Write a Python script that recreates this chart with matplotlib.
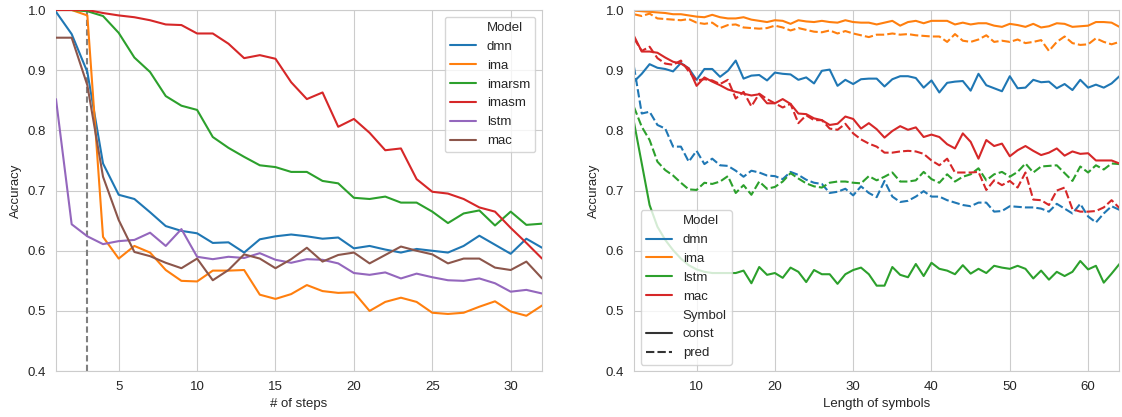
import matplotlib
matplotlib.use("Agg")
import matplotlib.pyplot as plt
import seaborn as sns
from matplotlib.lines import Line2D

sns.set_style("whitegrid")
plt.rcParams['font.family'] = ['Liberation Sans', 'DejaVu Sans']

# ---------------- data: left panel ----------------
steps = list(range(1, 33))
models_steps = ["dmn", "ima", "imarsm", "imasm", "lstm", "mac"]
dmn_steps = [0.997, 0.960, 0.897, 0.745, 0.693, 0.686, 0.664, 0.641, 0.633, 0.629, 0.613, 0.614, 0.597, 0.619, 0.624, 0.627,
             0.624, 0.620, 0.622, 0.604, 0.608, 0.602, 0.597, 0.603, 0.600, 0.597, 0.608, 0.625, 0.610, 0.595, 0.620, 0.605]
ima_steps = [1.0, 1.0, 0.991, 0.623, 0.587, 0.608, 0.597, 0.568, 0.550, 0.549, 0.567, 0.567, 0.568, 0.527, 0.520, 0.528,
             0.543, 0.533, 0.530, 0.531, 0.500, 0.515, 0.522, 0.515, 0.497, 0.495, 0.497, 0.507, 0.516, 0.499, 0.492, 0.509]
imarsm_steps = [1.0, 1.0, 0.998, 0.990, 0.962, 0.921, 0.897, 0.857, 0.841, 0.834, 0.789, 0.771, 0.756, 0.742, 0.739, 0.731,
                0.731, 0.716, 0.712, 0.688, 0.686, 0.690, 0.680, 0.680, 0.665, 0.646, 0.662, 0.667, 0.642, 0.665, 0.643, 0.645]
imasm_steps = [1.0, 1.0, 1.0, 0.995, 0.991, 0.988, 0.983, 0.976, 0.975, 0.961, 0.961, 0.944, 0.920, 0.925, 0.919, 0.880,
               0.852, 0.863, 0.806, 0.819, 0.796, 0.767, 0.770, 0.719, 0.698, 0.695, 0.686, 0.672, 0.665, 0.638, 0.613, 0.587]
lstm_steps = [0.852, 0.644, 0.624, 0.611, 0.616, 0.618, 0.630, 0.608, 0.636, 0.590, 0.586, 0.590, 0.588, 0.596, 0.585, 0.580,
              0.586, 0.585, 0.579, 0.563, 0.560, 0.564, 0.554, 0.562, 0.556, 0.551, 0.550, 0.554, 0.546, 0.532, 0.535, 0.529]
mac_steps = [0.954, 0.954, 0.875, 0.723, 0.651, 0.598, 0.591, 0.580, 0.571, 0.587, 0.551, 0.568, 0.594, 0.587, 0.571, 0.586,
             0.605, 0.582, 0.593, 0.597, 0.579, 0.593, 0.607, 0.600, 0.594, 0.579, 0.587, 0.587, 0.572, 0.568, 0.582, 0.554]
train_steps = 3

# ---------------- data: right panel ----------------
lengths = list(range(2, 65))
models_len = ["dmn", "ima", "lstm", "mac"]
symbols = ["const", "pred"]
dmn_const = [0.881, 0.894, 0.910, 0.904, 0.902, 0.898, 0.912, 0.903, 0.884, 0.902, 0.902, 0.889, 0.899, 0.916, 0.886, 0.891,
             0.892, 0.883, 0.896, 0.894, 0.893, 0.884, 0.888, 0.878, 0.899, 0.901, 0.874, 0.884, 0.877, 0.885, 0.886, 0.886,
             0.873, 0.885, 0.890, 0.890, 0.887, 0.871, 0.883, 0.863, 0.879, 0.881, 0.882, 0.866, 0.894, 0.875, 0.870, 0.865,
             0.890, 0.870, 0.871, 0.884, 0.880, 0.881, 0.870, 0.877, 0.867, 0.884, 0.871, 0.876, 0.871, 0.878, 0.890]
dmn_pred = [0.906, 0.828, 0.831, 0.809, 0.803, 0.773, 0.773, 0.748, 0.766, 0.744, 0.753, 0.742, 0.741, 0.733, 0.723, 0.733,
            0.730, 0.725, 0.724, 0.719, 0.731, 0.726, 0.718, 0.713, 0.711, 0.696, 0.698, 0.703, 0.692, 0.707, 0.696, 0.689,
            0.716, 0.690, 0.681, 0.683, 0.690, 0.699, 0.690, 0.690, 0.684, 0.680, 0.676, 0.674, 0.680, 0.680, 0.665, 0.666,
            0.674, 0.673, 0.672, 0.672, 0.670, 0.665, 0.678, 0.670, 0.662, 0.678, 0.657, 0.647, 0.662, 0.674, 0.668]
ima_const = [0.999, 0.998, 0.997, 0.996, 0.995, 0.993, 0.993, 0.991, 0.989, 0.988, 0.992, 0.988, 0.986, 0.986, 0.988, 0.984,
             0.982, 0.980, 0.983, 0.982, 0.977, 0.983, 0.981, 0.980, 0.982, 0.980, 0.979, 0.983, 0.980, 0.979, 0.979, 0.976,
             0.979, 0.982, 0.974, 0.980, 0.982, 0.978, 0.982, 0.982, 0.982, 0.976, 0.979, 0.976, 0.978, 0.978, 0.974, 0.972,
             0.977, 0.975, 0.972, 0.977, 0.971, 0.973, 0.978, 0.977, 0.972, 0.973, 0.974, 0.980, 0.980, 0.979, 0.972]
ima_pred = [0.993, 0.990, 0.994, 0.986, 0.985, 0.984, 0.983, 0.985, 0.979, 0.977, 0.979, 0.970, 0.975, 0.976, 0.971, 0.970,
            0.969, 0.970, 0.974, 0.971, 0.966, 0.970, 0.967, 0.964, 0.963, 0.966, 0.961, 0.965, 0.961, 0.958, 0.955, 0.959,
            0.959, 0.961, 0.959, 0.960, 0.958, 0.957, 0.956, 0.956, 0.947, 0.960, 0.949, 0.947, 0.951, 0.958, 0.947, 0.949,
            0.947, 0.951, 0.945, 0.947, 0.950, 0.932, 0.947, 0.956, 0.945, 0.942, 0.943, 0.953, 0.947, 0.943, 0.947]
lstm_const = [0.814, 0.745, 0.676, 0.640, 0.618, 0.601, 0.587, 0.576, 0.569, 0.565, 0.563, 0.563, 0.563, 0.563, 0.567, 0.546,
              0.573, 0.560, 0.563, 0.555, 0.572, 0.565, 0.548, 0.568, 0.561, 0.561, 0.545, 0.561, 0.568, 0.572, 0.561, 0.542,
              0.542, 0.573, 0.560, 0.556, 0.578, 0.558, 0.580, 0.570, 0.567, 0.561, 0.576, 0.562, 0.570, 0.563, 0.575, 0.572,
              0.570, 0.575, 0.570, 0.554, 0.567, 0.552, 0.565, 0.558, 0.565, 0.583, 0.569, 0.575, 0.547, 0.562, 0.578]
lstm_pred = [0.839, 0.806, 0.784, 0.748, 0.734, 0.725, 0.713, 0.702, 0.701, 0.713, 0.711, 0.715, 0.724, 0.696, 0.709, 0.693,
             0.715, 0.703, 0.706, 0.715, 0.729, 0.720, 0.712, 0.707, 0.705, 0.713, 0.715, 0.715, 0.713, 0.712, 0.724, 0.717,
             0.723, 0.730, 0.715, 0.715, 0.717, 0.731, 0.719, 0.713, 0.727, 0.715, 0.723, 0.727, 0.737, 0.717, 0.727, 0.731,
             0.723, 0.731, 0.745, 0.730, 0.740, 0.741, 0.742, 0.729, 0.716, 0.740, 0.730, 0.742, 0.735, 0.745, 0.744]
mac_const = [0.957, 0.931, 0.931, 0.929, 0.921, 0.914, 0.911, 0.903, 0.874, 0.888, 0.881, 0.875, 0.868, 0.864, 0.861, 0.858,
             0.860, 0.845, 0.845, 0.852, 0.844, 0.828, 0.827, 0.820, 0.817, 0.809, 0.811, 0.823, 0.819, 0.803, 0.812, 0.802,
             0.788, 0.799, 0.807, 0.801, 0.805, 0.789, 0.793, 0.789, 0.777, 0.770, 0.795, 0.781, 0.753, 0.784, 0.774, 0.778,
             0.757, 0.767, 0.774, 0.766, 0.759, 0.763, 0.770, 0.758, 0.765, 0.761, 0.762, 0.750, 0.750, 0.750, 0.745]
mac_pred = [0.953, 0.932, 0.939, 0.920, 0.911, 0.909, 0.916, 0.898, 0.883, 0.885, 0.883, 0.877, 0.884, 0.853, 0.864, 0.840,
            0.861, 0.852, 0.845, 0.838, 0.844, 0.812, 0.825, 0.817, 0.817, 0.803, 0.801, 0.811, 0.795, 0.785, 0.778, 0.773,
            0.763, 0.763, 0.765, 0.766, 0.765, 0.761, 0.750, 0.742, 0.753, 0.730, 0.730, 0.730, 0.731, 0.701, 0.717, 0.709,
            0.716, 0.705, 0.730, 0.685, 0.684, 0.676, 0.700, 0.705, 0.669, 0.665, 0.665, 0.666, 0.672, 0.684, 0.671]

# ---------------- drawing ----------------
palette = sns.color_palette("tab10")
FS_TICK = 9.5
FS_LABEL = 9.5
FS_LEG = 9.5

fig = plt.figure(figsize=(11.22, 4.17), dpi=100)
ax1 = fig.add_axes([0.0499, 0.110, 0.4332, 0.866])
ax2 = fig.add_axes([0.5650, 0.110, 0.4327, 0.866])

steps_series = [dmn_steps, ima_steps, imarsm_steps, imasm_steps, lstm_steps, mac_steps]
handles1 = [Line2D([], [], color="none")]
labels1 = ["Model"]
for i, (name, vals) in enumerate(zip(models_steps, steps_series)):
    ln, = ax1.plot(steps, vals, color=palette[i], lw=1.5, zorder=3)
    handles1.append(ln)
    labels1.append(name)
ax1.axvline(train_steps, color="0.5", lw=1.5, dashes=(3, 1.6), zorder=2)
ax1.set_xlim(1, 32)
ax1.set_ylim(0.4, 1.0)
ax1.set_xticks([5, 10, 15, 20, 25, 30])
ax1.set_xlabel("# of steps", fontsize=FS_LABEL)
ax1.set_ylabel("Accuracy", fontsize=FS_LABEL)
ax1.legend(handles1, labels1, loc="upper right", fontsize=FS_LEG, handlelength=2.0,
           borderaxespad=0.5, framealpha=0.8)

len_series = {"dmn": (dmn_const, dmn_pred), "ima": (ima_const, ima_pred),
              "lstm": (lstm_const, lstm_pred), "mac": (mac_const, mac_pred)}
for i, name in enumerate(models_len):
    c_vals, p_vals = len_series[name]
    ax2.plot(lengths, c_vals, color=palette[i], lw=1.5)
    ax2.plot(lengths, p_vals, color=palette[i], lw=1.5, dashes=(4, 1.5))
handles2 = [Line2D([], [], color="none")]
labels2 = ["Model"]
for i, name in enumerate(models_len):
    handles2.append(Line2D([], [], color=palette[i], lw=1.5))
    labels2.append(name)
handles2.append(Line2D([], [], color="none"))
labels2.append("Symbol")
handles2.append(Line2D([], [], color="0.2", lw=1.5))
labels2.append(symbols[0])
handles2.append(Line2D([], [], color="0.2", lw=1.5, dashes=(4, 1.5)))
labels2.append(symbols[1])
ax2.set_xlim(2, 64)
ax2.set_ylim(0.4, 1.0)
ax2.set_xticks([10, 20, 30, 40, 50, 60])
ax2.set_xlabel("Length of symbols", fontsize=FS_LABEL)
ax2.set_ylabel("Accuracy", fontsize=FS_LABEL)
ax2.legend(handles2, labels2, loc="lower left", fontsize=FS_LEG, handlelength=2.0,
           borderaxespad=0.5, framealpha=0.8)

for ax in (ax1, ax2):
    ax.set_yticks([0.4, 0.5, 0.6, 0.7, 0.8, 0.9, 1.0])
    ax.tick_params(labelsize=FS_TICK)

fig.savefig("out.png", dpi=100)
